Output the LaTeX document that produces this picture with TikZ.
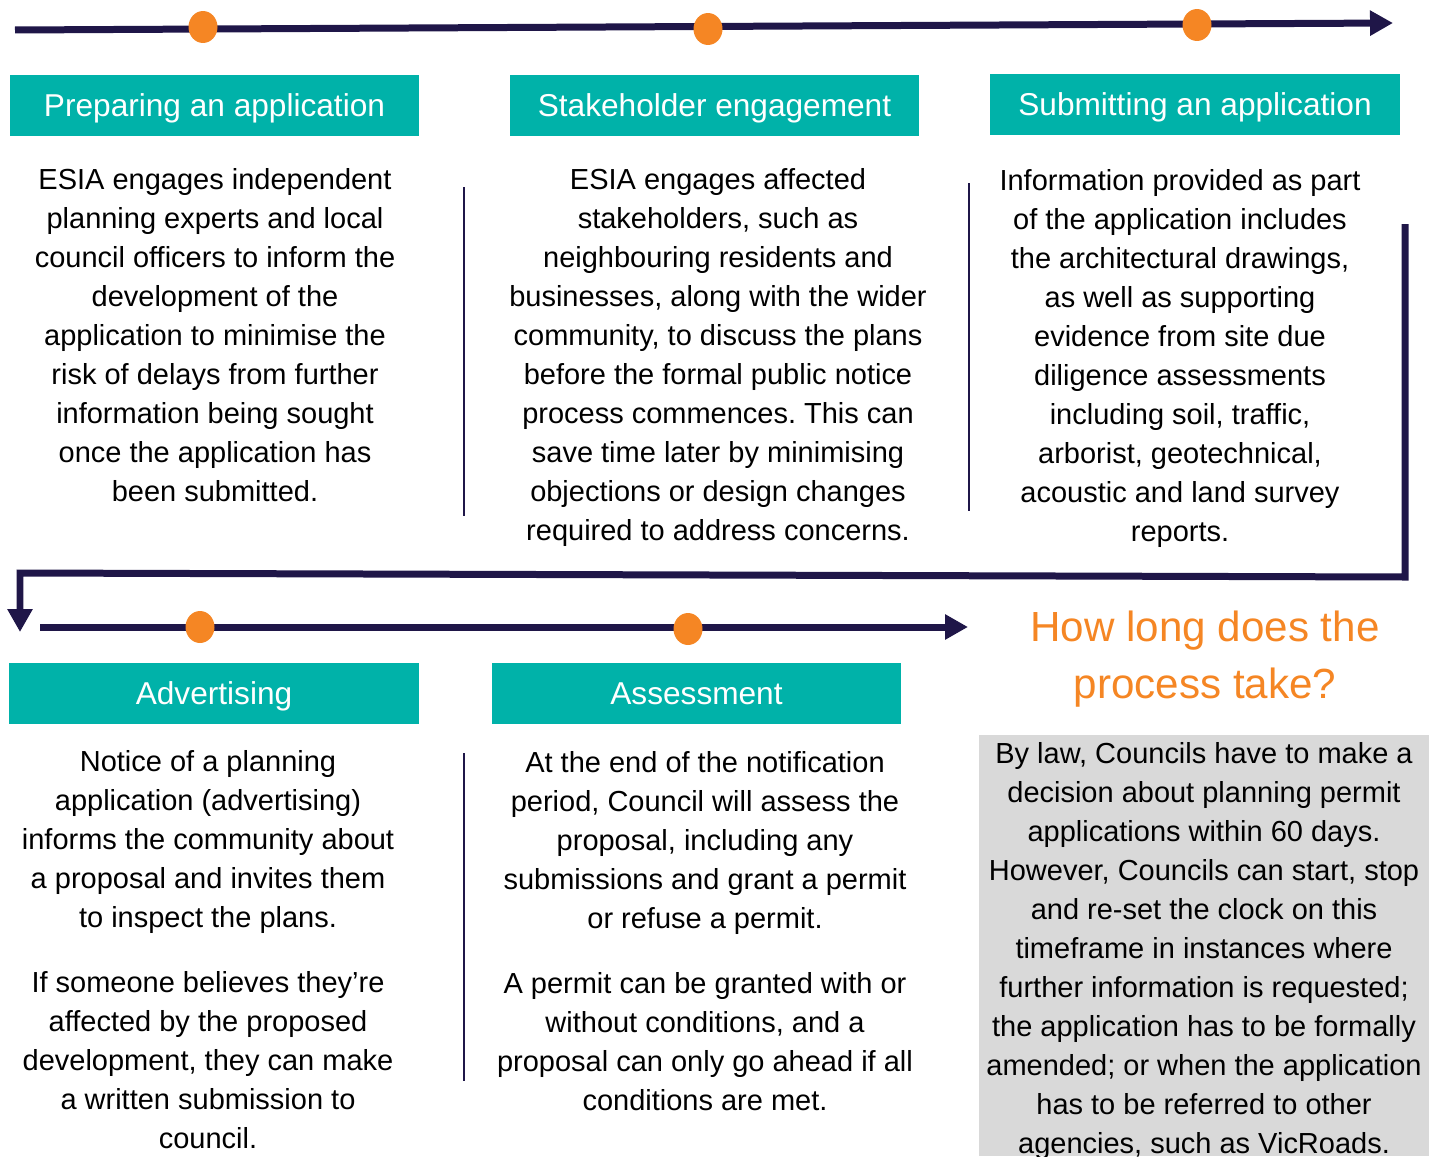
\documentclass[tikz,border=0pt]{standalone}
\usepackage{fontspec}
\setmainfont{Liberation Sans}
\usepackage{xcolor}
\usetikzlibrary{
  shapes.geometric,
  arrows.meta,
  positioning
}
\definecolor{LineNavy}{RGB}{31, 22, 72}
\definecolor{DotOrange}{RGB}{245, 134, 36}
\definecolor{StageTeal}{RGB}{0, 178, 169}
\definecolor{NoteGray}{RGB}{217, 217, 217}
\frenchspacing
\tikzset{
    timeline/.style={draw=LineNavy, line width=0.14cm},
    timetip/.style={-{Triangle[length=0.46cm, width=0.48cm]}},
    stagedot/.style={ellipse, fill=DotOrange, inner sep=0pt, minimum width=0.58cm, minimum height=0.64cm},
    stagehead/.style={rectangle, fill=StageTeal, text=white, inner sep=0pt, minimum width=8.2cm, minimum height=1.22cm,
        text height=13pt, text depth=0pt, font=\fontsize{18}{22}\selectfont},
    stagetext/.style={align=center, inner sep=0pt, anchor=north, font=\fontsize{16.5}{22.2}\selectfont},
    divider/.style={draw=LineNavy, line width=0.04cm}
}

\begin{document}
\begin{tikzpicture}[x=0.02cm, y=-0.02cm]
    \useasboundingbox (0,0) rectangle (1429,1156);

    % top row of stages
    \coordinate (topstart) at (15,30);
    \coordinate (topend) at (1393,23);
    \draw[timeline, timetip] (topstart) -- (topend);
    \node[stagedot] (dotprep) at (203,27) {};
    \node[stagedot] (dotstake) at (708,29) {};
    \node[stagedot] (dotsubmit) at (1197,25) {};

    \node[stagehead] (prephead) at (214.5,105.5) {Preparing an application};
    \node[stagehead] (stakehead) at (714.5,105.5) {Stakeholder engagement};
    \node[stagehead] (submithead) at (1195,104.5) {Submitting an application};

    \node[stagetext] (preptext) at (215,168) {
        ESIA engages independent\\
        planning experts and local\\
        council officers to inform the\\
        development of the\\
        application to minimise the\\
        risk of delays from further\\
        information being sought\\
        once the application has\\
        been submitted.
    };
    \node[stagetext] (staketext) at (718,168) {
        ESIA engages affected\\
        stakeholders, such as\\
        neighbouring residents and\\
        businesses, along with the wider\\
        community, to discuss the plans\\
        before the formal public notice\\
        process commences. This can\\
        save time later by minimising\\
        objections or design changes\\
        required to address concerns.
    };
    \node[stagetext] (submittext) at (1180,169) {
        Information provided as part\\
        of the application includes\\
        the architectural drawings,\\
        as well as supporting\\
        evidence from site due\\
        diligence assessments\\
        including soil, traffic,\\
        arborist, geotechnical,\\
        acoustic and land survey\\
        reports.
    };
    \draw[divider] (464,187) -- (464,516);
    \draw[divider] (969,183) -- (969,511);

    % return path down to the second row
    \coordinate (bendtop) at (1405,224);
    \coordinate (bendright) at (1405,577);
    \coordinate (bendleft) at (20,573);
    \coordinate (bendtip) at (20,632);
    \draw[timeline, timetip] (bendtop) -- (bendright) -- (bendleft) -- (bendtip);

    % bottom row of stages
    \coordinate (lowstart) at (40,627);
    \coordinate (lowend) at (968,627);
    \draw[timeline, timetip] (lowstart) -- (lowend);
    \node[stagedot] (dotadvert) at (200,627) {};
    \node[stagedot] (dotassess) at (688,629) {};

    \node[stagehead] (adverthead) at (214,693.5) {Advertising};
    \node[stagehead] (assesshead) at (696.5,693.5) {Assessment};

    \node[stagetext] (adverttext) at (208,750) {
        Notice of a planning\\
        application (advertising)\\
        informs the community about\\
        a proposal and invites them\\
        to inspect the plans.\\[0.52cm]
        If someone believes they’re\\
        affected by the proposed\\
        development, they can make\\
        a written submission to\\
        council.
    };
    \node[stagetext] (assesstext) at (705,751) {
        At the end of the notification\\
        period, Council will assess the\\
        proposal, including any\\
        submissions and grant a permit\\
        or refuse a permit.\\[0.52cm]
        A permit can be granted with or\\
        without conditions, and a\\
        proposal can only go ahead if all\\
        conditions are met.
    };
    \draw[divider] (464,753) -- (464,1081);

    % timeframe note
    \node[align=center, inner sep=0pt, text=DotOrange, font=\fontsize{24}{32.3}\selectfont] (howlong) at (1205,659) {
        How long does the\\
        process take?
    };
    \node[rectangle, fill=NoteGray, inner sep=0pt, anchor=north west, minimum width=9cm, minimum height=8.42cm] (notebox) at (979,735) {};
    \node[stagetext] (notetext) at (1204,742) {
        By law, Councils have to make a\\
        decision about planning permit\\
        applications within 60 days.\\
        However, Councils can start, stop\\
        and re-set the clock on this\\
        timeframe in instances where\\
        further information is requested;\\
        the application has to be formally\\
        amended; or when the application\\
        has to be referred to other\\
        agencies, such as VicRoads.
    };
\end{tikzpicture}
\end{document}
